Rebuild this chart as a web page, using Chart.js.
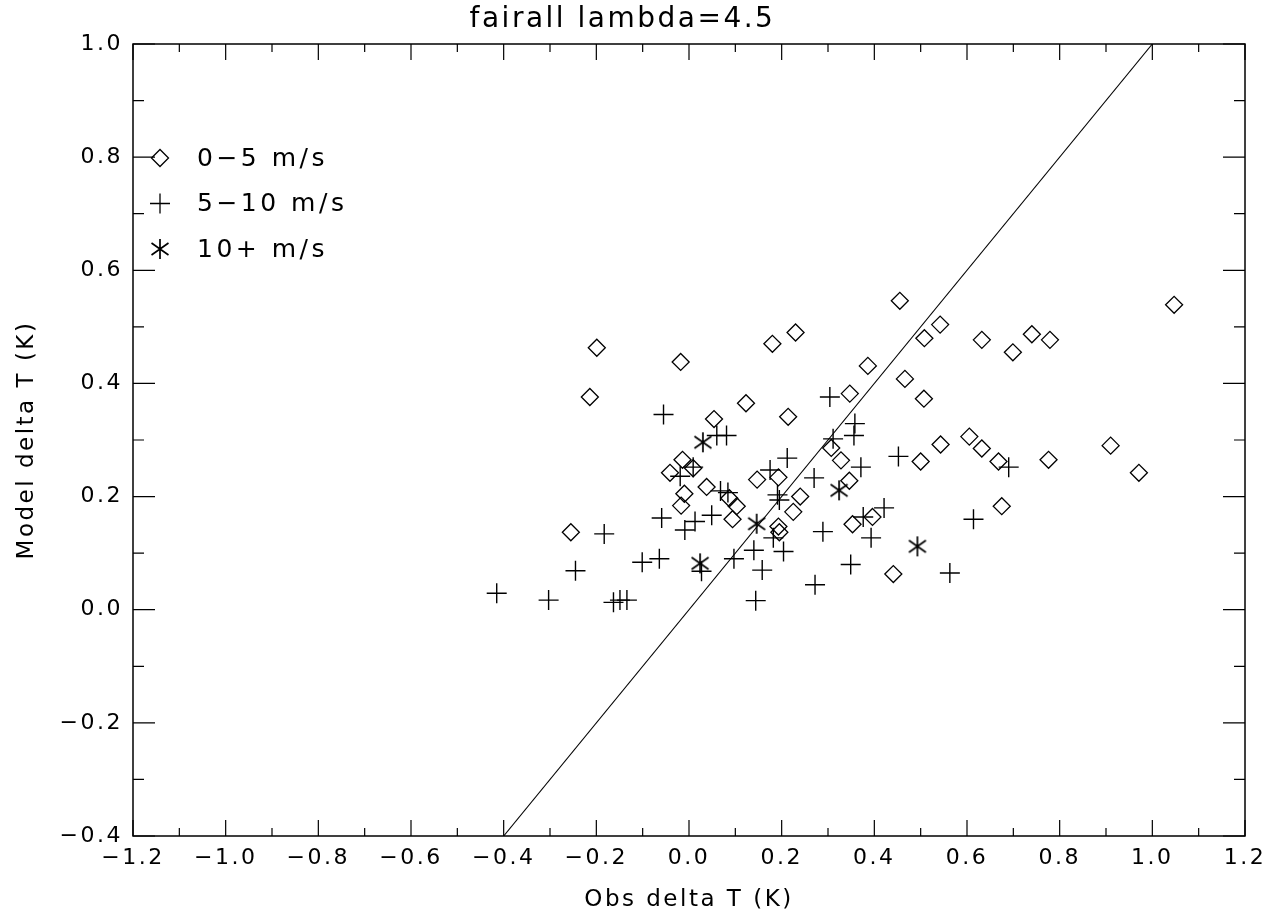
<!DOCTYPE html>
<html>
<head>
<meta charset="utf-8">
<title>fairall lambda=4.5</title>
<script src="https://cdn.jsdelivr.net/npm/chart.js@4.4.1/dist/chart.umd.min.js"></script>
<style>
  body { margin: 0; background: #fff; }
  canvas { display: block; }
</style>
</head>
<body>
<canvas id="myChart" width="1285" height="915"></canvas>
<script>
// wind speed 0-5 m/s
let lowObs = [-0.199, -0.018, -0.214, 0.123, 0.054, -0.014, -0.041, 0.009, 0.038, -0.010,
    -0.017, 0.087, 0.103, 0.094, -0.255, 0.455, 0.542, 0.508, 0.230, 0.180,
    0.632, 0.740, 0.699, 0.386, 0.466, 0.347, 0.507, 0.214, 0.307, 0.328,
    0.543, 0.500, 0.605, 0.632, 0.668, 0.147, 0.193, 0.346, 0.240, 0.225,
    0.193, 0.195, 0.353, 0.396, 0.675, 0.441, 0.779, 1.047, 0.776, 0.910, 0.971];
let lowModel = [0.463, 0.438, 0.376, 0.365, 0.337, 0.265, 0.242, 0.250, 0.217, 0.205,
    0.184, 0.197, 0.183, 0.160, 0.137, 0.546, 0.504, 0.480, 0.490, 0.470,
    0.477, 0.487, 0.455, 0.431, 0.408, 0.382, 0.373, 0.341, 0.286, 0.264,
    0.292, 0.262, 0.306, 0.285, 0.262, 0.230, 0.234, 0.228, 0.200, 0.173,
    0.147, 0.137, 0.151, 0.164, 0.183, 0.063, 0.477, 0.539, 0.265, 0.290, 0.242];

// wind speed 5-10 m/s
let midObs = [-0.055, 0.060, 0.081, 0.009, -0.019, 0.068, 0.084, -0.059, 0.013, -0.009,
    0.049, -0.183, -0.101, -0.064, 0.027, 0.097, -0.245, -0.415, -0.303, -0.163,
    -0.149, -0.134, 0.304, 0.358, 0.356, 0.311, 0.212, 0.452, 0.175, 0.371,
    0.270, 0.690, 0.191, 0.195, 0.421, 0.376, 0.289, 0.393, 0.182, 0.204,
    0.140, 0.614, 0.158, 0.349, 0.563, 0.272, 0.144];
let midModel = [0.345, 0.308, 0.308, 0.252, 0.236, 0.210, 0.207, 0.162, 0.156, 0.141,
    0.167, 0.134, 0.084, 0.090, 0.068, 0.090, 0.069, 0.029, 0.017, 0.013,
    0.017, 0.017, 0.376, 0.329, 0.308, 0.302, 0.268, 0.271, 0.247, 0.252,
    0.233, 0.252, 0.203, 0.194, 0.180, 0.164, 0.138, 0.127, 0.127, 0.103,
    0.105, 0.160, 0.070, 0.080, 0.065, 0.044, 0.016];

// wind speed 10+ m/s
let highObs = [0.030, 0.024, 0.324, 0.146, 0.493];
let highModel = [0.296, 0.082, 0.211, 0.152, 0.112];

// 1:1 line ends
let oneToOne = [-0.4, 1.0];

const xRange = [-1.2, 1.2];
const yRange = [-0.4, 1.0];

function toPoints(xs, ys) {
    return xs.map((x, i) => ({x: x, y: ys[i]}));
}

// asterisk marker: vertical bar plus two diagonals
function makeAsterisk(r) {
    const c = document.createElement('canvas');
    c.width = 2 * r + 4;
    c.height = 2 * r + 4;
    const g = c.getContext('2d');
    const m = r + 2;
    g.strokeStyle = '#000';
    g.lineWidth = 1.7;
    g.beginPath();
    g.moveTo(m, m - r); g.lineTo(m, m + r);
    g.moveTo(m - r * 0.85, m - r * 0.6); g.lineTo(m + r * 0.85, m + r * 0.6);
    g.moveTo(m - r * 0.85, m + r * 0.6); g.lineTo(m + r * 0.85, m - r * 0.6);
    g.stroke();
    return c;
}
const asterisk = makeAsterisk(10);

function tickLabel(v) {
    const n = Math.round(v * 10);
    if (n % 2 !== 0) return '';
    return (n / 10).toFixed(1).replace('-', '\u2212');
}

const fontName = "'DejaVu Sans', sans-serif";

// box frame with inward ticks on all four sides
const frameTicks = {
    id: 'frameTicks',
    beforeDraw(chart) {
        chart.ctx.letterSpacing = '2.5px';
    },
    afterDatasetsDraw(chart) {
        const ctx = chart.ctx;
        const a = chart.chartArea;
        const xs = chart.scales.x, ys = chart.scales.y;
        ctx.save();
        ctx.strokeStyle = '#000';
        ctx.lineWidth = 1.5;
        ctx.strokeRect(a.left, a.top, a.right - a.left, a.bottom - a.top);
        ctx.lineWidth = 1.2;
        ctx.beginPath();
        xs.ticks.forEach(t => {
            const px = xs.getPixelForValue(t.value);
            const len = Math.round(t.value * 10) % 2 === 0 ? 16 : 8;
            ctx.moveTo(px, a.bottom); ctx.lineTo(px, a.bottom - len);
            ctx.moveTo(px, a.top); ctx.lineTo(px, a.top + len);
        });
        ys.ticks.forEach(t => {
            const py = ys.getPixelForValue(t.value);
            const len = Math.round(t.value * 10) % 2 === 0 ? 22 : 11;
            ctx.moveTo(a.left, py); ctx.lineTo(a.left + len, py);
            ctx.moveTo(a.right, py); ctx.lineTo(a.right - len, py);
        });
        ctx.stroke();
        ctx.restore();
    }
};

// symbol key in the upper left of the plot
const symbolKey = {
    id: 'symbolKey',
    afterDraw(chart) {
        const ctx = chart.ctx;
        const a = chart.chartArea;
        const mx = a.left + 27;
        const tx = a.left + 64;
        let y = a.top + 114;
        ctx.save();
        ctx.font = '25px ' + fontName;
        ctx.letterSpacing = '3.5px';
        ctx.fillStyle = '#000';
        ctx.strokeStyle = '#000';
        ctx.lineWidth = 1.3;
        ctx.textBaseline = 'middle';
        chart.data.datasets.forEach(ds => {
            if (!ds.inKey) return;
            const r = ds.pointRadius;
            if (ds.pointStyle === 'rectRot') {
                ctx.beginPath();
                ctx.moveTo(mx - r, y); ctx.lineTo(mx, y - r);
                ctx.lineTo(mx + r, y); ctx.lineTo(mx, y + r);
                ctx.closePath();
                ctx.stroke();
            } else if (ds.pointStyle === 'cross') {
                ctx.beginPath();
                ctx.moveTo(mx - r, y); ctx.lineTo(mx + r, y);
                ctx.moveTo(mx, y - r); ctx.lineTo(mx, y + r);
                ctx.stroke();
            } else {
                ctx.drawImage(ds.pointStyle, Math.round(mx - ds.pointStyle.width / 2), Math.round(y - ds.pointStyle.height / 2));
            }
            ctx.fillText(ds.label, tx, y + 1);
            y += 45.5;
        });
        ctx.restore();
    }
};

const ctx = document.querySelector('#myChart').getContext('2d');
const myChart = new Chart(ctx, {
    type: 'scatter',
    data: {
        datasets: [{
            label: '0\u22125 m/s',
            inKey: true,
            data: toPoints(lowObs, lowModel),
            pointStyle: 'rectRot',
            pointRadius: 8.5,
            pointBorderWidth: 1.3,
            borderColor: '#000',
            backgroundColor: 'rgba(0,0,0,0)'
        }, {
            label: '5\u221210 m/s',
            inKey: true,
            data: toPoints(midObs, midModel),
            pointStyle: 'cross',
            pointRadius: 10,
            pointBorderWidth: 1.4,
            borderColor: '#000',
            backgroundColor: '#000'
        }, {
            label: '10+ m/s',
            inKey: true,
            data: toPoints(highObs, highModel),
            pointStyle: asterisk,
            pointRadius: 10,
            borderColor: '#000',
            backgroundColor: '#000'
        }, {
            type: 'line',
            label: '1:1',
            data: toPoints(oneToOne, oneToOne),
            borderColor: '#000',
            borderWidth: 1.1,
            pointRadius: 0,
            fill: false
        }]
    },
    options: {
        responsive: false,
        devicePixelRatio: 1,
        animation: false,
        layout: {
            padding: {left: 0, right: 40, top: 0, bottom: 0}
        },
        plugins: {
            legend: {display: false},
            tooltip: {enabled: false},
            title: {
                display: true,
                text: 'fairall lambda=4.5',
                color: '#000',
                font: {family: fontName, size: 28, weight: 'normal'},
                padding: {top: 3, bottom: 7.4}
            }
        },
        scales: {
            x: {
                type: 'linear',
                min: xRange[0],
                max: xRange[1],
                afterFit(scale) { scale.height = 79; },
                grid: {display: false, drawTicks: false},
                border: {display: false},
                ticks: {
                    stepSize: 0.1,
                    autoSkip: false,
                    maxRotation: 0,
                    padding: 9,
                    color: '#000',
                    font: {family: fontName, size: 22},
                    callback: v => tickLabel(v)
                },
                title: {
                    display: true,
                    text: 'Obs delta T (K)',
                    color: '#000',
                    font: {family: fontName, size: 23},
                    padding: {top: 0, bottom: 1.2}
                }
            },
            y: {
                type: 'linear',
                min: yRange[0],
                max: yRange[1],
                afterFit(scale) { scale.width = 133; },
                grid: {display: false, drawTicks: false},
                border: {display: false},
                ticks: {
                    stepSize: 0.1,
                    autoSkip: false,
                    padding: 10,
                    color: '#000',
                    font: {family: fontName, size: 22},
                    callback: v => tickLabel(v)
                },
                title: {
                    display: true,
                    text: 'Model delta T (K)',
                    color: '#000',
                    font: {family: fontName, size: 23},
                    padding: {top: 13, bottom: 0}
                }
            }
        }
    },
    plugins: [frameTicks, symbolKey]
});
</script>
</body>
</html>
